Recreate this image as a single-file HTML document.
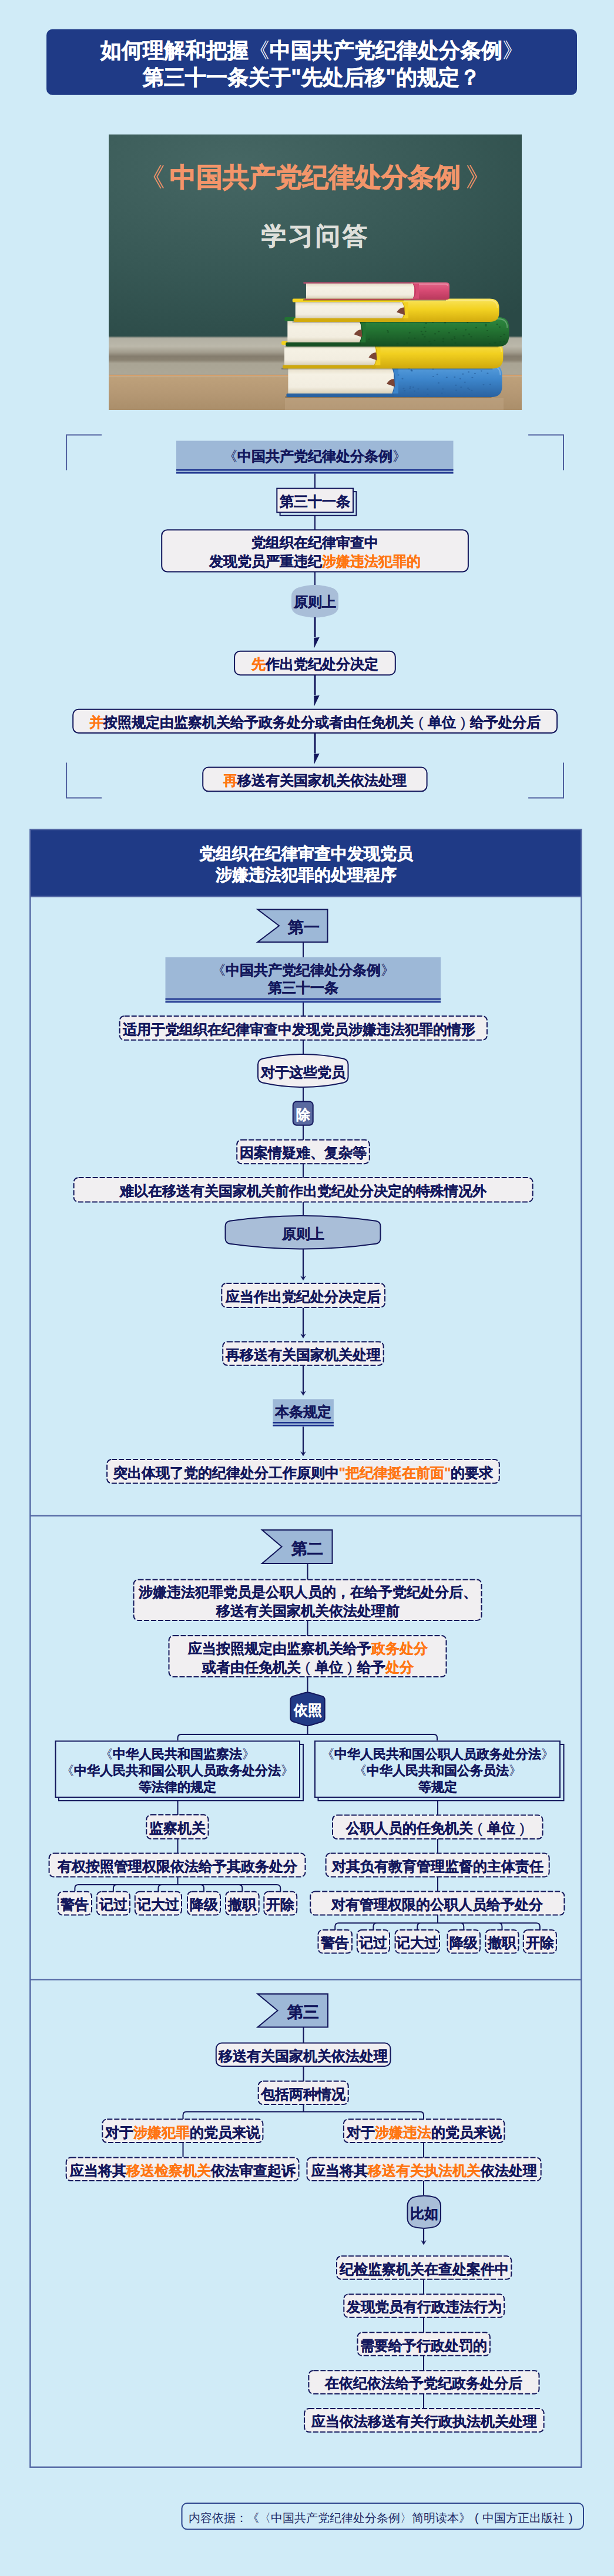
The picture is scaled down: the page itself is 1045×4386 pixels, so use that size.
<!DOCTYPE html>
<html><head><meta charset="utf-8"><style>
html,body{margin:0;padding:0;}
body{width:1045px;height:4386px;background:#d0ebf7;position:relative;overflow:hidden;font-family:"Liberation Sans",sans-serif;}
.t{position:absolute;display:flex;align-items:center;justify-content:center;text-align:center;white-space:nowrap;box-sizing:border-box;}
.o{color:#ff7613;}
.b{-webkit-text-stroke-width:0.35px;}
.nb{-webkit-text-stroke-width:0;font-weight:normal;}
.pw{display:inline-block;width:1em;text-align:center;font-weight:normal;-webkit-text-stroke-width:0;}
.b .pw{-webkit-text-stroke-width:0.3px;}
svg.g{position:absolute;left:0;top:0;}
</style></head><body>
<svg class="g" width="1045" height="4386" viewBox="0 0 1045 4386">
<rect x="79.1" y="49.8" width="902.9" height="112.00000000000001" rx="10" fill="#1f3a86"/>
<path d="M113.1,800.4 V740.4 H173.1 M899.1,740.4 H959 V800.4 M113.1,1298.5 V1358.4 H173.1 M899.1,1358.4 H959 V1298.5" fill="none" stroke="#4f5f9e" stroke-width="2"/>
<line x1="536" y1="806" x2="536" y2="1000" stroke="#13175c" stroke-width="2"/>
<rect x="300" y="750.5" width="471.5" height="55.89999999999998" rx="0" fill="#9db8d7"/>
<rect x="300" y="799" width="471.5" height="2.5" fill="#1f3590"/>
<rect x="300" y="803.9" width="471.5" height="2.5" fill="#1f3590"/>
<rect x="476.6" y="837.1" width="129.79999999999995" height="40.60000000000002" rx="0" fill="#d0ebf7" stroke="#13175c" stroke-width="2"/>
<rect x="471.3" y="831.6" width="129.7" height="40.69999999999993" rx="0" fill="#f1eff1" stroke="#13175c" stroke-width="2"/>
<rect x="275.2" y="902.2" width="521.7" height="71.39999999999998" rx="9.5" fill="#f1eff1" stroke="#13175c" stroke-width="2"/>
<path d="M496,1015 Q496,1006 505,1001.5 Q536.0,990.5 567,1001.5 Q576,1006 576,1015 L576,1032.6 Q576,1041.6 567,1046.1 Q536.0,1057.1 505,1046.1 Q496,1041.6 496,1032.6 Z" fill="#a9bed8"/>
<rect x="534.5" y="1051" width="3" height="34.100000000000136" fill="#13175c"/>
<path d="M534.2,1086.1000000000001 L543.7,1085.1000000000001 L534.6,1103.7 Z" fill="#13175c"/>
<rect x="399.1" y="1108.7" width="273.69999999999993" height="40.5" rx="9.5" fill="#f1eff1" stroke="#13175c" stroke-width="2"/>
<rect x="534.5" y="1150" width="3" height="34.100000000000136" fill="#13175c"/>
<path d="M534.2,1185.1000000000001 L543.7,1184.1000000000001 L534.6,1202.7 Z" fill="#13175c"/>
<rect x="124.2" y="1207.7" width="823.9" height="40.299999999999955" rx="9.5" fill="#f1eff1" stroke="#13175c" stroke-width="2"/>
<rect x="534.5" y="1249" width="3" height="34.0" fill="#13175c"/>
<path d="M534.2,1284.0 L543.7,1283.0 L534.6,1301.6 Z" fill="#13175c"/>
<rect x="345.2" y="1306.6" width="381.40000000000003" height="40.700000000000045" rx="9.5" fill="#f1eff1" stroke="#13175c" stroke-width="2"/>
<rect x="51.4" y="1412.2" width="938" height="114.1" fill="#1f3a86"/>
<rect x="51.4" y="1412.2" width="938" height="2788.5" fill="none" stroke="#5266a3" stroke-width="2.4"/>
<line x1="51.4" y1="1526.3" x2="989.4" y2="1526.3" stroke="#5266a3" stroke-width="2.4"/>
<line x1="51.4" y1="2580.9" x2="989.4" y2="2580.9" stroke="#5266a3" stroke-width="2.2"/>
<line x1="51.4" y1="3370.75" x2="989.4" y2="3370.75" stroke="#5266a3" stroke-width="2.2"/>
<line x1="516" y1="1605" x2="516" y2="2069" stroke="#13175c" stroke-width="2"/>
<path d="M438.5,1548.5 L557.5,1548.5 L557.5,1604 L438.5,1604 L475,1576.25 Z" fill="#9db8d7" stroke="#13175c" stroke-width="2" stroke-linejoin="miter"/>
<rect x="281.5" y="1629.8" width="468.5" height="77.30000000000018" rx="0" fill="#9db8d7"/>
<rect x="281.5" y="1699.7" width="468.5" height="2.5" fill="#1f3590"/>
<rect x="281.5" y="1704.6000000000001" width="468.5" height="2.5" fill="#1f3590"/>
<rect x="203.7" y="1730.0" width="625.2" height="40.799999999999955" rx="8" fill="#f1eff1" stroke="#13175c" stroke-width="2" stroke-dasharray="9 3"/>
<path d="M439.0,1812.5 Q439.0,1804.5 447.0,1802.5195439739414 Q515.75,1787.4804560260586 584.5,1802.5195439739414 Q592.5,1804.5 592.5,1812.5 L592.5,1833.5 Q592.5,1841.5 584.5,1843.4804560260586 Q515.75,1858.5195439739414 447.0,1843.4804560260586 Q439.0,1841.5 439.0,1833.5 Z" fill="#f1eff1" stroke="#13175c" stroke-width="2"/>
<rect x="498.7" y="1875.6" width="34.00000000000006" height="40.200000000000045" rx="6" fill="#5a6aa0" stroke="#13175c" stroke-width="2"/>
<rect x="403.2" y="1940.7" width="225.59999999999997" height="40.5" rx="8" fill="#f1eff1" stroke="#13175c" stroke-width="2" stroke-dasharray="9 3"/>
<rect x="125.6" y="2005.1" width="781.0" height="41.30000000000018" rx="8" fill="#f1eff1" stroke="#13175c" stroke-width="2" stroke-dasharray="9 3"/>
<path d="M383.5,2088.0 Q383.5,2080.0 391.5,2078.787878787879 Q515.5,2061.212121212121 639.5,2078.787878787879 Q647.5,2080.0 647.5,2088.0 L647.5,2108.5 Q647.5,2116.5 639.5,2117.712121212121 Q515.5,2135.287878787879 391.5,2117.712121212121 Q383.5,2116.5 383.5,2108.5 Z" fill="#a9bed8" stroke="#13175c" stroke-width="2"/>
<line x1="516" y1="2127" x2="516" y2="2176.8" stroke="#13175c" stroke-width="2.2"/>
<path d="M511.8,2172.8 L516,2179.8 L520.2,2172.8 L516,2175.8 Z" fill="#13175c" stroke="#13175c" stroke-width="0.6" stroke-linejoin="round"/>
<rect x="377.3" y="2185.1" width="277.7" height="40.80000000000018" rx="8" fill="#f1eff1" stroke="#13175c" stroke-width="2" stroke-dasharray="9 3"/>
<line x1="516" y1="2226.9" x2="516" y2="2275.3" stroke="#13175c" stroke-width="2.2"/>
<path d="M511.8,2271.3 L516,2278.3 L520.2,2271.3 L516,2274.3 Z" fill="#13175c" stroke="#13175c" stroke-width="0.6" stroke-linejoin="round"/>
<rect x="379.2" y="2284.4" width="273.50000000000006" height="40.29999999999973" rx="8" fill="#f1eff1" stroke="#13175c" stroke-width="2" stroke-dasharray="9 3"/>
<line x1="516" y1="2325.7" x2="516" y2="2372.8" stroke="#13175c" stroke-width="2.2"/>
<path d="M511.8,2368.8 L516,2375.8 L520.2,2368.8 L516,2371.8 Z" fill="#13175c" stroke="#13175c" stroke-width="0.6" stroke-linejoin="round"/>
<rect x="464.4" y="2382.3" width="103.5" height="46.09999999999991" rx="0" fill="#9db8d7"/>
<rect x="464.4" y="2421" width="103.5" height="2.5" fill="#1f3590"/>
<rect x="464.4" y="2425.9" width="103.5" height="2.5" fill="#1f3590"/>
<line x1="516" y1="2428.8" x2="516" y2="2475.8" stroke="#13175c" stroke-width="2.2"/>
<path d="M511.8,2471.8 L516,2478.8 L520.2,2471.8 L516,2474.8 Z" fill="#13175c" stroke="#13175c" stroke-width="0.6" stroke-linejoin="round"/>
<rect x="182.1" y="2485.0" width="667.6999999999999" height="40.40000000000009" rx="8" fill="#f1eff1" stroke="#13175c" stroke-width="2" stroke-dasharray="9 3"/>
<line x1="523.5" y1="2662" x2="523.5" y2="2953" stroke="#13175c" stroke-width="2"/>
<path d="M446,2605 L565.5,2605 L565.5,2662 L446,2662 L479.5,2633.5 Z" fill="#9db8d7" stroke="#13175c" stroke-width="2" stroke-linejoin="miter"/>
<rect x="227.5" y="2689.5" width="592.0" height="69.5" rx="8" fill="#f1eff1" stroke="#13175c" stroke-width="2" stroke-dasharray="9 3"/>
<rect x="287.5" y="2785.0" width="472.0" height="70" rx="8" fill="#f1eff1" stroke="#13175c" stroke-width="2" stroke-dasharray="9 3"/>
<path d="M494.40,2894.30 Q494.4,2889.3 499.20,2887.90 L518.70,2882.20 Q523.5,2880.8 528.30,2882.20 L547.90,2887.90 Q552.7,2889.3 552.70,2894.30 L552.70,2925.00 Q552.7,2930 547.92,2931.47 L528.28,2937.53 Q523.5,2939 518.72,2937.52 L499.18,2931.48 Q494.4,2930 494.40,2925.00 Z" fill="#213a86" stroke="#13175c" stroke-width="2"/>
<path d="M302.5,2963.5 L302.5,2959 Q302.5,2953 308.5,2953 L738,2953 Q744,2953 744,2959 L744,2963.5" fill="none" stroke="#13175c" stroke-width="2"/>
<rect x="100.0" y="2970.0" width="416" height="96" rx="0" fill="#d0ebf7" stroke="#13175c" stroke-width="2"/>
<rect x="94.5" y="2964.5" width="415.5" height="95.5" rx="0" fill="#d0ebf7" stroke="#13175c" stroke-width="2"/>
<rect x="541.5" y="2970.0" width="418.0" height="96" rx="0" fill="#d0ebf7" stroke="#13175c" stroke-width="2"/>
<rect x="536.0" y="2964.5" width="417" height="95.5" rx="0" fill="#d0ebf7" stroke="#13175c" stroke-width="2"/>
<line x1="302.5" y1="3066" x2="302.5" y2="3209" stroke="#13175c" stroke-width="2"/>
<rect x="249.3" y="3090.1" width="105.19999999999999" height="40.70000000000027" rx="8" fill="#f1eff1" stroke="#13175c" stroke-width="2" stroke-dasharray="9 3"/>
<rect x="83.6" y="3155.5" width="435.9" height="40.09999999999991" rx="8" fill="#f1eff1" stroke="#13175c" stroke-width="2" stroke-dasharray="9 3"/>
<path d="M127.4,3220 L127.4,3215 Q127.4,3209 133.4,3209 L471.25,3209 Q477.25,3209 477.25,3215 L477.25,3220 M192.9,3220 L192.9,3215 Q192.9,3209 198.9,3209 M269.4,3220 L269.4,3215 Q269.4,3209 275.4,3209 M341.0,3209 Q347.0,3209 347.0,3215 L347.0,3220 M406.35,3209 Q412.35,3209 412.35,3215 L412.35,3220" fill="none" stroke="#13175c" stroke-width="2"/>
<rect x="98.8" y="3220.8" width="57.2" height="39.79999999999973" rx="8" fill="#f1eff1" stroke="#13175c" stroke-width="2" stroke-dasharray="9 3"/>
<rect x="164.8" y="3220.8" width="56.19999999999999" height="39.79999999999973" rx="8" fill="#f1eff1" stroke="#13175c" stroke-width="2" stroke-dasharray="9 3"/>
<rect x="229.8" y="3220.8" width="79.19999999999999" height="39.79999999999973" rx="8" fill="#f1eff1" stroke="#13175c" stroke-width="2" stroke-dasharray="9 3"/>
<rect x="319.0" y="3220.8" width="56" height="39.79999999999973" rx="8" fill="#f1eff1" stroke="#13175c" stroke-width="2" stroke-dasharray="9 3"/>
<rect x="384.0" y="3220.8" width="56.69999999999999" height="39.79999999999973" rx="8" fill="#f1eff1" stroke="#13175c" stroke-width="2" stroke-dasharray="9 3"/>
<rect x="449.3" y="3220.8" width="55.89999999999998" height="39.79999999999973" rx="8" fill="#f1eff1" stroke="#13175c" stroke-width="2" stroke-dasharray="9 3"/>
<line x1="745" y1="3066" x2="745" y2="3274.3" stroke="#13175c" stroke-width="2"/>
<rect x="566.0" y="3090.4" width="357.5" height="40.5" rx="8" fill="#f1eff1" stroke="#13175c" stroke-width="2" stroke-dasharray="9 3"/>
<rect x="554.6" y="3155.5" width="380.1" height="40.09999999999991" rx="8" fill="#f1eff1" stroke="#13175c" stroke-width="2" stroke-dasharray="9 3"/>
<rect x="528.2" y="3220.6" width="432.19999999999993" height="40.0" rx="8" fill="#f1eff1" stroke="#13175c" stroke-width="2" stroke-dasharray="9 3"/>
<path d="M570.25,3286 L570.25,3280.3 Q570.25,3274.3 576.25,3274.3 L912.8499999999999,3274.3 Q918.8499999999999,3274.3 918.8499999999999,3280.3 L918.8499999999999,3286 M635.4,3286 L635.4,3280.3 Q635.4,3274.3 641.4,3274.3 M710.3,3286 L710.3,3280.3 Q710.3,3274.3 716.3,3274.3 M783.3,3274.3 Q789.3,3274.3 789.3,3280.3 L789.3,3286 M848.45,3274.3 Q854.45,3274.3 854.45,3280.3 L854.45,3286" fill="none" stroke="#13175c" stroke-width="2"/>
<rect x="541.5" y="3285.9" width="57.5" height="39.69999999999982" rx="8" fill="#f1eff1" stroke="#13175c" stroke-width="2" stroke-dasharray="9 3"/>
<rect x="607.8" y="3285.9" width="55.200000000000045" height="39.69999999999982" rx="8" fill="#f1eff1" stroke="#13175c" stroke-width="2" stroke-dasharray="9 3"/>
<rect x="672.6" y="3285.9" width="75.39999999999998" height="39.69999999999982" rx="8" fill="#f1eff1" stroke="#13175c" stroke-width="2" stroke-dasharray="9 3"/>
<rect x="761.6" y="3285.9" width="55.39999999999998" height="39.69999999999982" rx="8" fill="#f1eff1" stroke="#13175c" stroke-width="2" stroke-dasharray="9 3"/>
<rect x="826.4" y="3285.9" width="56.10000000000002" height="39.69999999999982" rx="8" fill="#f1eff1" stroke="#13175c" stroke-width="2" stroke-dasharray="9 3"/>
<rect x="890.8" y="3285.9" width="56.10000000000002" height="39.69999999999982" rx="8" fill="#f1eff1" stroke="#13175c" stroke-width="2" stroke-dasharray="9 3"/>
<line x1="516.5" y1="3451" x2="516.5" y2="3595.6" stroke="#13175c" stroke-width="2"/>
<path d="M438.5,3395 L558,3395 L558,3451.5 L438.5,3451.5 L472.5,3423.25 Z" fill="#9db8d7" stroke="#13175c" stroke-width="2" stroke-linejoin="miter"/>
<rect x="367.8" y="3478.6" width="296.7" height="39.5" rx="9.5" fill="#f1eff1" stroke="#13175c" stroke-width="2"/>
<rect x="439.7" y="3543.6" width="153.00000000000006" height="39.5" rx="8" fill="#f1eff1" stroke="#13175c" stroke-width="2" stroke-dasharray="9 3"/>
<path d="M311.5,3608 L311.5,3601.6 Q311.5,3595.6 317.5,3595.6 L715,3595.6 Q721,3595.6 721,3601.6 L721,3608" fill="none" stroke="#13175c" stroke-width="2"/>
<line x1="311.5" y1="3649" x2="311.5" y2="3672.5" stroke="#13175c" stroke-width="2"/>
<line x1="721" y1="3649" x2="721" y2="3737.5" stroke="#13175c" stroke-width="2"/>
<rect x="174.3" y="3608.3" width="273.09999999999997" height="39.59999999999991" rx="8" fill="#f1eff1" stroke="#13175c" stroke-width="2" stroke-dasharray="9 3"/>
<rect x="584.9" y="3608.3" width="273.5" height="39.59999999999991" rx="8" fill="#f1eff1" stroke="#13175c" stroke-width="2" stroke-dasharray="9 3"/>
<rect x="112.7" y="3673.6" width="395.8" height="39.5" rx="8" fill="#f1eff1" stroke="#13175c" stroke-width="2" stroke-dasharray="9 3"/>
<rect x="522.5" y="3673.6" width="398.20000000000005" height="39.5" rx="8" fill="#f1eff1" stroke="#13175c" stroke-width="2" stroke-dasharray="9 3"/>
<path d="M693.5,3755.5 Q693.5,3746.5 702.5,3741.402654867257 Q721.75,3735.597345132743 741.0,3741.402654867257 Q750.0,3746.5 750.0,3755.5 L750.0,3777.0 Q750.0,3786.0 741.0,3791.097345132743 Q721.75,3796.902654867257 702.5,3791.097345132743 Q693.5,3786.0 693.5,3777.0 Z" fill="#a9bed8" stroke="#13175c" stroke-width="2"/>
<line x1="721" y1="3795" x2="721" y2="3818.8" stroke="#13175c" stroke-width="2.2"/>
<path d="M716.8,3814.8 L721,3821.8 L725.2,3814.8 L721,3817.8 Z" fill="#13175c" stroke="#13175c" stroke-width="0.6" stroke-linejoin="round"/>
<line x1="721" y1="3880" x2="721" y2="4100" stroke="#13175c" stroke-width="2"/>
<rect x="573.0" y="3841.3" width="297.29999999999995" height="39.5" rx="8" fill="#f1eff1" stroke="#13175c" stroke-width="2" stroke-dasharray="9 3"/>
<rect x="585.3" y="3906.2" width="272.80000000000007" height="39.600000000000364" rx="8" fill="#f1eff1" stroke="#13175c" stroke-width="2" stroke-dasharray="9 3"/>
<rect x="608.5" y="3971.3" width="225.39999999999998" height="39.5" rx="8" fill="#f1eff1" stroke="#13175c" stroke-width="2" stroke-dasharray="9 3"/>
<rect x="525.4" y="4036.2" width="392.1" height="39.600000000000364" rx="8" fill="#f1eff1" stroke="#13175c" stroke-width="2" stroke-dasharray="9 3"/>
<rect x="518.1" y="4101.0" width="407.5" height="39.80000000000018" rx="8" fill="#f1eff1" stroke="#13175c" stroke-width="2" stroke-dasharray="9 3"/>
<rect x="309.5" y="4262.0" width="683.5" height="44.5" rx="9" fill="none" stroke="#2b438b" stroke-width="2"/>
</svg>
<svg style="position:absolute;left:185px;top:229px" width="703" height="469" viewBox="0 0 703 469">
<defs>
<radialGradient id="bd" cx="0.3" cy="0.15" r="1.0">
<stop offset="0" stop-color="#466764"/><stop offset="0.55" stop-color="#375855"/><stop offset="1" stop-color="#2a4946"/>
</radialGradient>
<linearGradient id="ld" x1="0" y1="0" x2="0" y2="1">
<stop offset="0" stop-color="#6f7a72"/><stop offset="0.05" stop-color="#b3b0a3"/><stop offset="0.25" stop-color="#bbb8aa"/><stop offset="0.4" stop-color="#a39d8e"/><stop offset="0.5" stop-color="#857d6e"/><stop offset="0.6" stop-color="#8a8272"/><stop offset="0.68" stop-color="#a9a494"/><stop offset="0.95" stop-color="#aca797"/><stop offset="1" stop-color="#9f9785"/>
</linearGradient>
<linearGradient id="tb" x1="0" y1="0" x2="0" y2="1">
<stop offset="0" stop-color="#bea17b"/><stop offset="0.5" stop-color="#b59874"/><stop offset="1" stop-color="#aa8e6a"/>
</linearGradient>
<linearGradient id="pg" x1="0" y1="0" x2="0" y2="1">
<stop offset="0" stop-color="#e4dcc6"/><stop offset="0.25" stop-color="#f5f1e4"/><stop offset="0.75" stop-color="#f2ede0"/><stop offset="1" stop-color="#d9d0b8"/>
</linearGradient>
</defs>
<rect x="0" y="0" width="703" height="344" fill="url(#bd)"/>
<rect x="0" y="344" width="703" height="67" fill="url(#ld)"/>
<rect x="0" y="409.5" width="703" height="2" fill="#d9a06a"/>
<rect x="0" y="411.5" width="703" height="58" fill="url(#tb)"/>
<rect x="300" y="449" width="372" height="20" fill="#c9b090" opacity="0.35"/>
<linearGradient id="sg1" x1="0" y1="0" x2="0" y2="1"><stop offset="0" stop-color="#5aa0de"/><stop offset="0.45" stop-color="#3d86cc"/><stop offset="1" stop-color="#2a62a0"/></linearGradient>
<rect x="300.4" y="445.5" width="351.1" height="3" fill="#000" opacity="0.25"/>
<path d="M479,391.5 H651.5 Q669.5,391.5 669.5,409.5 V429 Q669.5,447 651.5,447 H479 Z" fill="url(#sg1)"/>
<path d="M485,394.5 H651.5 Q666.5,394.5 666.5,409.5" fill="none" stroke="#ffffff" stroke-opacity="0.25" stroke-width="2"/>
<rect x="300.4" y="391.5" width="184.60000000000002" height="6" rx="2" fill="#3d86cc"/>
<rect x="302.4" y="441" width="182.60000000000002" height="6" rx="2" fill="#2a62a0"/>
<rect x="305.4" y="397.5" width="179.60000000000002" height="43.5" fill="url(#pg)"/>
<path d="M483,397.5 Q491,419.25 483,441 H493 V397.5 Z" fill="#3d86cc"/>
<path d="M483,397.5 Q491,419.25 483,441" fill="none" stroke="#2a62a0" stroke-width="1.2"/>
<path d="M473,424.47 Q479,415.47 486,416.47 L487,429.47 Z" fill="#7b4536"/>
<ellipse cx="612.6" cy="404.4" rx="1.6" ry="1.1" fill="#2a62a0" opacity="0.7"/>
<ellipse cx="613.8" cy="434.0" rx="1.6" ry="1.1" fill="#2a62a0" opacity="0.7"/>
<ellipse cx="588.8" cy="413.1" rx="1.6" ry="1.1" fill="#2a62a0" opacity="0.7"/>
<ellipse cx="503.6" cy="436.2" rx="1.6" ry="1.1" fill="#2a62a0" opacity="0.7"/>
<ellipse cx="552.0" cy="399.3" rx="1.6" ry="1.1" fill="#2a62a0" opacity="0.7"/>
<ellipse cx="644.9" cy="406.7" rx="1.6" ry="1.1" fill="#2a62a0" opacity="0.7"/>
<ellipse cx="542.8" cy="442.8" rx="1.6" ry="1.1" fill="#2a62a0" opacity="0.7"/>
<ellipse cx="611.7" cy="431.9" rx="1.6" ry="1.1" fill="#2a62a0" opacity="0.7"/>
<ellipse cx="515.1" cy="401.0" rx="1.6" ry="1.1" fill="#2a62a0" opacity="0.7"/>
<ellipse cx="561.5" cy="423.1" rx="1.6" ry="1.1" fill="#2a62a0" opacity="0.7"/>
<ellipse cx="638.0" cy="426.1" rx="1.6" ry="1.1" fill="#2a62a0" opacity="0.7"/>
<ellipse cx="568.8" cy="433.3" rx="1.6" ry="1.1" fill="#2a62a0" opacity="0.7"/>
<ellipse cx="617.9" cy="435.9" rx="1.6" ry="1.1" fill="#2a62a0" opacity="0.7"/>
<ellipse cx="602.9" cy="407.8" rx="1.6" ry="1.1" fill="#2a62a0" opacity="0.7"/>
<ellipse cx="520.5" cy="436.8" rx="1.6" ry="1.1" fill="#2a62a0" opacity="0.7"/>
<ellipse cx="598.4" cy="415.8" rx="1.6" ry="1.1" fill="#2a62a0" opacity="0.7"/>
<ellipse cx="591.6" cy="435.7" rx="1.6" ry="1.1" fill="#2a62a0" opacity="0.7"/>
<ellipse cx="512.8" cy="432.2" rx="1.6" ry="1.1" fill="#2a62a0" opacity="0.7"/>
<ellipse cx="567.1" cy="440.7" rx="1.6" ry="1.1" fill="#2a62a0" opacity="0.7"/>
<ellipse cx="542.8" cy="433.7" rx="1.6" ry="1.1" fill="#2a62a0" opacity="0.7"/>
<ellipse cx="606.2" cy="421.8" rx="1.6" ry="1.1" fill="#2a62a0" opacity="0.7"/>
<ellipse cx="513.5" cy="429.7" rx="1.6" ry="1.1" fill="#2a62a0" opacity="0.7"/>
<ellipse cx="502.0" cy="432.5" rx="1.6" ry="1.1" fill="#2a62a0" opacity="0.7"/>
<ellipse cx="515.3" cy="402.1" rx="1.6" ry="1.1" fill="#2a62a0" opacity="0.7"/>
<ellipse cx="552.4" cy="412.0" rx="1.6" ry="1.1" fill="#2a62a0" opacity="0.7"/>
<ellipse cx="526.9" cy="433.3" rx="1.6" ry="1.1" fill="#2a62a0" opacity="0.7"/>
<ellipse cx="559.3" cy="408.5" rx="1.6" ry="1.1" fill="#2a62a0" opacity="0.7"/>
<ellipse cx="590.9" cy="426.9" rx="1.6" ry="1.1" fill="#2a62a0" opacity="0.7"/>
<ellipse cx="518.4" cy="430.3" rx="1.6" ry="1.1" fill="#2a62a0" opacity="0.7"/>
<ellipse cx="599.8" cy="430.3" rx="1.6" ry="1.1" fill="#2a62a0" opacity="0.7"/>
<ellipse cx="493.1" cy="409.5" rx="1.6" ry="1.1" fill="#2a62a0" opacity="0.7"/>
<ellipse cx="618.9" cy="413.8" rx="1.6" ry="1.1" fill="#2a62a0" opacity="0.7"/>
<ellipse cx="649.4" cy="425.5" rx="1.6" ry="1.1" fill="#2a62a0" opacity="0.7"/>
<ellipse cx="634.4" cy="402.6" rx="1.6" ry="1.1" fill="#2a62a0" opacity="0.7"/>
<ellipse cx="511.2" cy="398.6" rx="1.6" ry="1.1" fill="#2a62a0" opacity="0.7"/>
<ellipse cx="623.4" cy="406.8" rx="1.6" ry="1.1" fill="#2a62a0" opacity="0.7"/>
<ellipse cx="516.2" cy="402.4" rx="1.6" ry="1.1" fill="#2a62a0" opacity="0.7"/>
<ellipse cx="575.3" cy="413.7" rx="1.6" ry="1.1" fill="#2a62a0" opacity="0.7"/>
<ellipse cx="500.0" cy="415.9" rx="1.6" ry="1.1" fill="#2a62a0" opacity="0.7"/>
<linearGradient id="sg2" x1="0" y1="0" x2="0" y2="1"><stop offset="0" stop-color="#f8e25a"/><stop offset="0.45" stop-color="#f2d020"/><stop offset="1" stop-color="#cfa80c"/></linearGradient>
<rect x="294" y="397.1" width="359.29999999999995" height="3" fill="#000" opacity="0.25"/>
<path d="M448.4,352 H653.3 Q671.3,352 671.3,370 V380.6 Q671.3,398.6 653.3,398.6 H448.4 Z" fill="url(#sg2)"/>
<path d="M454.4,355 H653.3 Q668.3,355 668.3,370" fill="none" stroke="#ffffff" stroke-opacity="0.25" stroke-width="2"/>
<rect x="294" y="352" width="160.39999999999998" height="6" rx="2" fill="#f2d020"/>
<rect x="296" y="392.6" width="158.39999999999998" height="6" rx="2" fill="#cfa80c"/>
<rect x="299" y="358" width="155.39999999999998" height="34.60000000000002" fill="url(#pg)"/>
<path d="M452.4,358 Q460.4,375.3 452.4,392.6 H462.4 V358 Z" fill="#f2d020"/>
<path d="M452.4,358 Q460.4,375.3 452.4,392.6" fill="none" stroke="#cfa80c" stroke-width="1.2"/>
<path d="M442.4,379.452 Q448.4,370.452 455.4,371.452 L456.4,384.452 Z" fill="#7b4536"/>
<linearGradient id="sg3" x1="0" y1="0" x2="0" y2="1"><stop offset="0" stop-color="#2f8a42"/><stop offset="0.45" stop-color="#237332"/><stop offset="1" stop-color="#164f22"/></linearGradient>
<rect x="299.3" y="359.5" width="363.99999999999994" height="3" fill="#000" opacity="0.25"/>
<path d="M423.4,311 H663.3 Q681.3,311 681.3,329 V343 Q681.3,361 663.3,361 H423.4 Z" fill="url(#sg3)"/>
<path d="M429.4,314 H663.3 Q678.3,314 678.3,329" fill="none" stroke="#ffffff" stroke-opacity="0.25" stroke-width="2"/>
<rect x="299.3" y="311" width="130.09999999999997" height="7" rx="2" fill="#237332"/>
<rect x="301.3" y="354" width="128.09999999999997" height="7" rx="2" fill="#164f22"/>
<rect x="304.3" y="318" width="125.09999999999997" height="36" fill="url(#pg)"/>
<path d="M427.4,318 Q435.4,336.0 427.4,354 H437.4 V318 Z" fill="#237332"/>
<path d="M427.4,318 Q435.4,336.0 427.4,354" fill="none" stroke="#164f22" stroke-width="1.2"/>
<path d="M417.4,340.32 Q423.4,331.32 430.4,332.32 L431.4,345.32 Z" fill="#7b4536"/>
<ellipse cx="537.4" cy="328.7" rx="1.6" ry="1.1" fill="#164f22" opacity="0.7"/>
<ellipse cx="507.6" cy="355.1" rx="1.6" ry="1.1" fill="#164f22" opacity="0.7"/>
<ellipse cx="539.2" cy="335.1" rx="1.6" ry="1.1" fill="#164f22" opacity="0.7"/>
<ellipse cx="588.5" cy="344.6" rx="1.6" ry="1.1" fill="#164f22" opacity="0.7"/>
<ellipse cx="607.7" cy="332.6" rx="1.6" ry="1.1" fill="#164f22" opacity="0.7"/>
<ellipse cx="548.3" cy="356.5" rx="1.6" ry="1.1" fill="#164f22" opacity="0.7"/>
<ellipse cx="534.3" cy="340.4" rx="1.6" ry="1.1" fill="#164f22" opacity="0.7"/>
<ellipse cx="554.6" cy="350.8" rx="1.6" ry="1.1" fill="#164f22" opacity="0.7"/>
<ellipse cx="475.6" cy="336.4" rx="1.6" ry="1.1" fill="#164f22" opacity="0.7"/>
<ellipse cx="642.0" cy="325.7" rx="1.6" ry="1.1" fill="#164f22" opacity="0.7"/>
<ellipse cx="656.8" cy="354.9" rx="1.6" ry="1.1" fill="#164f22" opacity="0.7"/>
<ellipse cx="591.2" cy="331.7" rx="1.6" ry="1.1" fill="#164f22" opacity="0.7"/>
<ellipse cx="551.8" cy="319.4" rx="1.6" ry="1.1" fill="#164f22" opacity="0.7"/>
<ellipse cx="474.6" cy="334.1" rx="1.6" ry="1.1" fill="#164f22" opacity="0.7"/>
<ellipse cx="658.4" cy="354.2" rx="1.6" ry="1.1" fill="#164f22" opacity="0.7"/>
<ellipse cx="555.5" cy="339.4" rx="1.6" ry="1.1" fill="#164f22" opacity="0.7"/>
<ellipse cx="665.4" cy="327.8" rx="1.6" ry="1.1" fill="#164f22" opacity="0.7"/>
<ellipse cx="569.6" cy="347.9" rx="1.6" ry="1.1" fill="#164f22" opacity="0.7"/>
<ellipse cx="512.2" cy="337.6" rx="1.6" ry="1.1" fill="#164f22" opacity="0.7"/>
<ellipse cx="610.8" cy="320.1" rx="1.6" ry="1.1" fill="#164f22" opacity="0.7"/>
<ellipse cx="443.2" cy="348.7" rx="1.6" ry="1.1" fill="#164f22" opacity="0.7"/>
<ellipse cx="532.2" cy="335.3" rx="1.6" ry="1.1" fill="#164f22" opacity="0.7"/>
<ellipse cx="540.1" cy="321.6" rx="1.6" ry="1.1" fill="#164f22" opacity="0.7"/>
<ellipse cx="617.0" cy="344.3" rx="1.6" ry="1.1" fill="#164f22" opacity="0.7"/>
<ellipse cx="613.5" cy="339.9" rx="1.6" ry="1.1" fill="#164f22" opacity="0.7"/>
<ellipse cx="666.6" cy="353.1" rx="1.6" ry="1.1" fill="#164f22" opacity="0.7"/>
<ellipse cx="625.5" cy="328.8" rx="1.6" ry="1.1" fill="#164f22" opacity="0.7"/>
<ellipse cx="584.6" cy="349.5" rx="1.6" ry="1.1" fill="#164f22" opacity="0.7"/>
<ellipse cx="546.0" cy="352.5" rx="1.6" ry="1.1" fill="#164f22" opacity="0.7"/>
<ellipse cx="667.4" cy="344.0" rx="1.6" ry="1.1" fill="#164f22" opacity="0.7"/>
<ellipse cx="589.0" cy="347.1" rx="1.6" ry="1.1" fill="#164f22" opacity="0.7"/>
<ellipse cx="645.9" cy="344.0" rx="1.6" ry="1.1" fill="#164f22" opacity="0.7"/>
<ellipse cx="491.5" cy="355.9" rx="1.6" ry="1.1" fill="#164f22" opacity="0.7"/>
<ellipse cx="590.1" cy="354.9" rx="1.6" ry="1.1" fill="#164f22" opacity="0.7"/>
<ellipse cx="644.4" cy="334.0" rx="1.6" ry="1.1" fill="#164f22" opacity="0.7"/>
<ellipse cx="642.0" cy="323.3" rx="1.6" ry="1.1" fill="#164f22" opacity="0.7"/>
<ellipse cx="673.2" cy="340.7" rx="1.6" ry="1.1" fill="#164f22" opacity="0.7"/>
<ellipse cx="648.5" cy="356.1" rx="1.6" ry="1.1" fill="#164f22" opacity="0.7"/>
<ellipse cx="572.5" cy="320.6" rx="1.6" ry="1.1" fill="#164f22" opacity="0.7"/>
<ellipse cx="661.1" cy="323.1" rx="1.6" ry="1.1" fill="#164f22" opacity="0.7"/>
<ellipse cx="569.2" cy="352.5" rx="1.6" ry="1.1" fill="#164f22" opacity="0.7"/>
<ellipse cx="604.0" cy="342.7" rx="1.6" ry="1.1" fill="#164f22" opacity="0.7"/>
<ellipse cx="510.7" cy="346.5" rx="1.6" ry="1.1" fill="#164f22" opacity="0.7"/>
<ellipse cx="561.8" cy="335.3" rx="1.6" ry="1.1" fill="#164f22" opacity="0.7"/>
<ellipse cx="521.0" cy="346.8" rx="1.6" ry="1.1" fill="#164f22" opacity="0.7"/>
<ellipse cx="579.3" cy="337.6" rx="1.6" ry="1.1" fill="#164f22" opacity="0.7"/>
<ellipse cx="537.9" cy="344.5" rx="1.6" ry="1.1" fill="#164f22" opacity="0.7"/>
<ellipse cx="673.1" cy="352.4" rx="1.6" ry="1.1" fill="#164f22" opacity="0.7"/>
<linearGradient id="sg4" x1="0" y1="0" x2="0" y2="1"><stop offset="0" stop-color="#f9e45e"/><stop offset="0.45" stop-color="#f3d222"/><stop offset="1" stop-color="#d2ab0e"/></linearGradient>
<rect x="312.7" y="317.5" width="336.0" height="3" fill="#000" opacity="0.25"/>
<path d="M496,279.5 H648.7 Q664.5,279.5 664.5,295.3 V303.2 Q664.5,319 648.7,319 H496 Z" fill="url(#sg4)"/>
<path d="M502,282.5 H648.7 Q661.5,282.5 661.5,295.3" fill="none" stroke="#ffffff" stroke-opacity="0.25" stroke-width="2"/>
<rect x="312.7" y="279.5" width="189.3" height="6" rx="2" fill="#f3d222"/>
<rect x="314.7" y="313" width="187.3" height="6" rx="2" fill="#d2ab0e"/>
<rect x="317.7" y="285.5" width="184.3" height="27.5" fill="url(#pg)"/>
<path d="M500,285.5 Q508,299.25 500,313 H510 V285.5 Z" fill="#f3d222"/>
<path d="M500,285.5 Q508,299.25 500,313" fill="none" stroke="#d2ab0e" stroke-width="1.2"/>
<path d="M490,302.55 Q496,293.55 503,294.55 L504,307.55 Z" fill="#7b4536"/>
<linearGradient id="sg5" x1="0" y1="0" x2="0" y2="1"><stop offset="0" stop-color="#e56a8a"/><stop offset="0.45" stop-color="#d84b74"/><stop offset="1" stop-color="#b8385c"/></linearGradient>
<rect x="331" y="280.0" width="243" height="3" fill="#000" opacity="0.25"/>
<path d="M514,251.7 H574 Q580,251.7 580,257.7 V275.5 Q580,281.5 574,281.5 H514 Z" fill="url(#sg5)"/>
<path d="M520,254.7 H574 Q577,254.7 577,257.7" fill="none" stroke="#ffffff" stroke-opacity="0.25" stroke-width="2"/>
<rect x="331" y="251.7" width="189" height="2" rx="2" fill="#d84b74"/>
<rect x="333" y="279.5" width="187" height="2" rx="2" fill="#b8385c"/>
<rect x="336" y="253.7" width="184" height="25.80000000000001" fill="url(#pg)"/>
<path d="M518,253.7 Q526,266.6 518,279.5 H528 V253.7 Z" fill="#d84b74"/>
<path d="M518,253.7 Q526,266.6 518,279.5" fill="none" stroke="#b8385c" stroke-width="1.2"/>
</svg>
<div class="t b" style="left:185px;top:262px;width:703px;height:80px;font-size:45px;font-weight:bold;color:#f3956a;line-height:60px;-webkit-text-stroke-width:1px"><div><span class="nb" style="margin-right:8px">《</span>中国共产党纪律处分条例<span class="nb" style="margin-left:8px">》</span></div></div>
<div class="t b" style="left:185px;top:362px;width:703px;height:80px;font-size:42px;font-weight:bold;color:#dedfda;line-height:60px;letter-spacing:4px;-webkit-text-stroke-width:0.8px"><div>学习问答</div></div>

<div class="t b" style="left:79.1px;top:52.8px;width:902.9px;height:112.00000000000001px;font-size:36px;line-height:46px;color:#fff;font-weight:bold;-webkit-text-stroke-width:0.7px"><div>如何理解和把握<span class="nb">《</span>中国共产党纪律处分条例<span class="nb">》</span><br>第三十一条关于"先处后移"的规定？</div></div>
<div class="t b" style="left:300px;top:753.0px;width:471.5px;height:48.5px;font-size:24px;line-height:30px;color:#13175c;font-weight:bold;"><div><span class="nb">《</span>中国共产党纪律处分条例<span class="nb">》</span></div></div>
<div class="t b" style="left:470.3px;top:833.1px;width:131.7px;height:42.69999999999993px;font-size:24px;line-height:32px;color:#13175c;font-weight:bold;"><div>第三十一条</div></div>
<div class="t b" style="left:274.2px;top:903.7px;width:523.7px;height:73.39999999999998px;font-size:24px;line-height:32px;color:#13175c;font-weight:bold;"><div>党组织在纪律审查中<br>发现党员严重违纪<span class="o">涉嫌违法犯罪的</span></div></div>
<div class="t b" style="left:496px;top:997.5px;width:80px;height:55.59999999999991px;font-size:24px;line-height:32px;color:#13175c;font-weight:bold;"><div>原则上</div></div>
<div class="t b" style="left:398.1px;top:1110.2px;width:275.69999999999993px;height:42.5px;font-size:24px;line-height:32px;color:#13175c;font-weight:bold;"><div><span class="o">先</span>作出党纪处分决定</div></div>
<div class="t b" style="left:123.2px;top:1209.2px;width:825.9px;height:42.299999999999955px;font-size:24px;line-height:32px;color:#13175c;font-weight:bold;"><div><span class="o">并</span>按照规定由监察机关给予政务处分或者由任免机关<span class="pw">(</span>单位<span class="pw">)</span>给予处分后</div></div>
<div class="t b" style="left:344.2px;top:1308.1px;width:383.40000000000003px;height:42.700000000000045px;font-size:24px;line-height:32px;color:#13175c;font-weight:bold;"><div><span class="o">再</span>移送有关国家机关依法处理</div></div>
<div class="t b" style="left:51px;top:1414.5px;width:939px;height:114px;font-size:28px;line-height:36px;color:#fff;font-weight:bold;-webkit-text-stroke-width:0.6px"><div>党组织在纪律审查中发现党员<br>涉嫌违法犯罪的处理程序</div></div>
<div class="t b" style="left:472px;top:1550.5px;width:89.5px;height:57.5px;font-size:27px;line-height:36px;color:#13175c;font-weight:bold;"><div>第一</div></div>
<div class="t b" style="left:281.5px;top:1632.3px;width:468.5px;height:69.90000000000009px;font-size:24px;line-height:30px;color:#13175c;font-weight:bold;"><div><span class="nb">《</span>中国共产党纪律处分条例<span class="nb">》</span><br>第三十一条</div></div>
<div class="t b" style="left:195.2px;top:1731.5px;width:627.2px;height:42.799999999999955px;font-size:24px;line-height:32px;color:#13175c;font-weight:bold;"><div>适用于党组织在纪律审查中发现党员涉嫌违法犯罪的情形</div></div>
<div class="t b" style="left:438px;top:1796.5px;width:155.5px;height:58px;font-size:24px;line-height:32px;color:#13175c;font-weight:bold;"><div>对于这些党员</div></div>
<div class="t b" style="left:497.7px;top:1877.1px;width:36.00000000000006px;height:42.200000000000045px;font-size:24px;line-height:32px;color:#fff;font-weight:bold;"><div>除</div></div>
<div class="t b" style="left:402.2px;top:1942.2px;width:227.59999999999997px;height:42.5px;font-size:24px;line-height:32px;color:#13175c;font-weight:bold;"><div>因案情疑难、复杂等</div></div>
<div class="t b" style="left:124.6px;top:2006.6px;width:783.0px;height:43.30000000000018px;font-size:24px;line-height:32px;color:#13175c;font-weight:bold;"><div>难以在移送有关国家机关前作出党纪处分决定的特殊情况外</div></div>
<div class="t b" style="left:382.5px;top:2071.5px;width:266.0px;height:58.5px;font-size:24px;line-height:32px;color:#13175c;font-weight:bold;"><div>原则上</div></div>
<div class="t b" style="left:376.3px;top:2186.6px;width:279.7px;height:42.80000000000018px;font-size:24px;line-height:32px;color:#13175c;font-weight:bold;"><div>应当作出党纪处分决定后</div></div>
<div class="t b" style="left:378.2px;top:2285.9px;width:275.50000000000006px;height:42.29999999999973px;font-size:24px;line-height:32px;color:#13175c;font-weight:bold;"><div>再移送有关国家机关处理</div></div>
<div class="t b" style="left:464.4px;top:2384.8px;width:103.5px;height:38.69999999999982px;font-size:24px;line-height:30px;color:#13175c;font-weight:bold;"><div>本条规定</div></div>
<div class="t b" style="left:181.1px;top:2486.5px;width:669.6999999999999px;height:42.40000000000009px;font-size:24px;line-height:32px;color:#13175c;font-weight:bold;"><div>突出体现了党的纪律处分工作原则中<span class="o">"把纪律挺在前面"</span>的要求</div></div>
<div class="t b" style="left:476.5px;top:2607px;width:93.0px;height:59px;font-size:27px;line-height:36px;color:#13175c;font-weight:bold;"><div>第二</div></div>
<div class="t b" style="left:226.5px;top:2691.0px;width:594.0px;height:71.5px;font-size:24px;line-height:32px;color:#13175c;font-weight:bold;"><div>涉嫌违法犯罪党员是公职人员的，在给予党纪处分后、<br>移送有关国家机关依法处理前</div></div>
<div class="t b" style="left:286.5px;top:2786.5px;width:474.0px;height:72px;font-size:24px;line-height:32px;color:#13175c;font-weight:bold;"><div>应当按照规定由监察机关给予<span class="o">政务处分</span><br>或者由任免机关<span class="pw">(</span>单位<span class="pw">)</span>给予<span class="o">处分</span></div></div>
<div class="t b" style="left:493.4px;top:2882.5px;width:60.30000000000007px;height:59.69999999999982px;font-size:24px;line-height:32px;color:#fff;font-weight:bold;"><div>依照</div></div>
<div class="t b" style="left:93.5px;top:2966.0px;width:417.5px;height:97.5px;font-size:22px;line-height:28px;color:#13175c;font-weight:bold;"><div><span class="nb">《</span>中华人民共和国监察法<span class="nb">》</span><br><span class="nb">《</span>中华人民共和国公职人员政务处分法<span class="nb">》</span><br>等法律的规定</div></div>
<div class="t b" style="left:535px;top:2966.0px;width:419px;height:97.5px;font-size:22px;line-height:28px;color:#13175c;font-weight:bold;"><div><span class="nb">《</span>中华人民共和国公职人员政务处分法<span class="nb">》</span><br><span class="nb">《</span>中华人民共和国公务员法<span class="nb">》</span><br>等规定</div></div>
<div class="t b" style="left:248.3px;top:3091.6px;width:107.19999999999999px;height:42.70000000000027px;font-size:24px;line-height:32px;color:#13175c;font-weight:bold;"><div>监察机关</div></div>
<div class="t b" style="left:82.6px;top:3157.0px;width:437.9px;height:42.09999999999991px;font-size:24px;line-height:32px;color:#13175c;font-weight:bold;"><div>有权按照管理权限依法给予其政务处分</div></div>
<div class="t b" style="left:97.8px;top:3222.3px;width:59.2px;height:41.79999999999973px;font-size:24px;line-height:32px;color:#13175c;font-weight:bold;"><div>警告</div></div>
<div class="t b" style="left:163.8px;top:3222.3px;width:58.19999999999999px;height:41.79999999999973px;font-size:24px;line-height:32px;color:#13175c;font-weight:bold;"><div>记过</div></div>
<div class="t b" style="left:228.8px;top:3222.3px;width:81.19999999999999px;height:41.79999999999973px;font-size:24px;line-height:32px;color:#13175c;font-weight:bold;"><div>记大过</div></div>
<div class="t b" style="left:318px;top:3222.3px;width:58px;height:41.79999999999973px;font-size:24px;line-height:32px;color:#13175c;font-weight:bold;"><div>降级</div></div>
<div class="t b" style="left:383px;top:3222.3px;width:58.69999999999999px;height:41.79999999999973px;font-size:24px;line-height:32px;color:#13175c;font-weight:bold;"><div>撤职</div></div>
<div class="t b" style="left:448.3px;top:3222.3px;width:57.89999999999998px;height:41.79999999999973px;font-size:24px;line-height:32px;color:#13175c;font-weight:bold;"><div>开除</div></div>
<div class="t b" style="left:565px;top:3091.9px;width:359.5px;height:42.5px;font-size:24px;line-height:32px;color:#13175c;font-weight:bold;"><div>公职人员的任免机关<span class="pw">(</span>单位<span class="pw">)</span></div></div>
<div class="t b" style="left:553.6px;top:3157.0px;width:382.1px;height:42.09999999999991px;font-size:24px;line-height:32px;color:#13175c;font-weight:bold;"><div>对其负有教育管理监督的主体责任</div></div>
<div class="t b" style="left:527.2px;top:3222.1px;width:434.19999999999993px;height:42.0px;font-size:24px;line-height:32px;color:#13175c;font-weight:bold;"><div>对有管理权限的公职人员给予处分</div></div>
<div class="t b" style="left:540.5px;top:3287.4px;width:59.5px;height:41.69999999999982px;font-size:24px;line-height:32px;color:#13175c;font-weight:bold;"><div>警告</div></div>
<div class="t b" style="left:606.8px;top:3287.4px;width:57.200000000000045px;height:41.69999999999982px;font-size:24px;line-height:32px;color:#13175c;font-weight:bold;"><div>记过</div></div>
<div class="t b" style="left:671.6px;top:3287.4px;width:77.39999999999998px;height:41.69999999999982px;font-size:24px;line-height:32px;color:#13175c;font-weight:bold;"><div>记大过</div></div>
<div class="t b" style="left:760.6px;top:3287.4px;width:57.39999999999998px;height:41.69999999999982px;font-size:24px;line-height:32px;color:#13175c;font-weight:bold;"><div>降级</div></div>
<div class="t b" style="left:825.4px;top:3287.4px;width:58.10000000000002px;height:41.69999999999982px;font-size:24px;line-height:32px;color:#13175c;font-weight:bold;"><div>撤职</div></div>
<div class="t b" style="left:889.8px;top:3287.4px;width:58.10000000000002px;height:41.69999999999982px;font-size:24px;line-height:32px;color:#13175c;font-weight:bold;"><div>开除</div></div>
<div class="t b" style="left:469.5px;top:3397px;width:92.5px;height:58.5px;font-size:27px;line-height:36px;color:#13175c;font-weight:bold;"><div>第三</div></div>
<div class="t b" style="left:366.8px;top:3480.1px;width:298.7px;height:41.5px;font-size:24px;line-height:32px;color:#13175c;font-weight:bold;"><div>移送有关国家机关依法处理</div></div>
<div class="t b" style="left:438.7px;top:3545.1px;width:155.00000000000006px;height:41.5px;font-size:24px;line-height:32px;color:#13175c;font-weight:bold;"><div>包括两种情况</div></div>
<div class="t b" style="left:173.3px;top:3609.8px;width:275.09999999999997px;height:41.59999999999991px;font-size:24px;line-height:32px;color:#13175c;font-weight:bold;"><div>对于<span class="o">涉嫌犯罪</span>的党员来说</div></div>
<div class="t b" style="left:583.9px;top:3609.8px;width:275.5px;height:41.59999999999991px;font-size:24px;line-height:32px;color:#13175c;font-weight:bold;"><div>对于<span class="o">涉嫌违法</span>的党员来说</div></div>
<div class="t b" style="left:111.7px;top:3675.1px;width:397.8px;height:41.5px;font-size:24px;line-height:32px;color:#13175c;font-weight:bold;"><div>应当将其<span class="o">移送检察机关</span>依法审查起诉</div></div>
<div class="t b" style="left:521.5px;top:3675.1px;width:400.20000000000005px;height:41.5px;font-size:24px;line-height:32px;color:#13175c;font-weight:bold;"><div>应当将其<span class="o">移送有关执法机关</span>依法处理</div></div>
<div class="t b" style="left:692.5px;top:3740.0px;width:58.5px;height:57.5px;font-size:24px;line-height:32px;color:#13175c;font-weight:bold;"><div>比如</div></div>
<div class="t b" style="left:572px;top:3842.8px;width:299.29999999999995px;height:41.5px;font-size:24px;line-height:32px;color:#13175c;font-weight:bold;"><div>纪检监察机关在查处案件中</div></div>
<div class="t b" style="left:584.3px;top:3907.7px;width:274.80000000000007px;height:41.600000000000364px;font-size:24px;line-height:32px;color:#13175c;font-weight:bold;"><div>发现党员有行政违法行为</div></div>
<div class="t b" style="left:607.5px;top:3972.8px;width:227.39999999999998px;height:41.5px;font-size:24px;line-height:32px;color:#13175c;font-weight:bold;"><div>需要给予行政处罚的</div></div>
<div class="t b" style="left:524.4px;top:4037.7px;width:394.1px;height:41.600000000000364px;font-size:24px;line-height:32px;color:#13175c;font-weight:bold;"><div>在依纪依法给予党纪政务处分后</div></div>
<div class="t b" style="left:517.1px;top:4102.5px;width:409.5px;height:41.80000000000018px;font-size:24px;line-height:32px;color:#13175c;font-weight:bold;"><div>应当依法移送有关行政执法机关处理</div></div>
<div class="t" style="left:308.5px;top:4263.5px;width:685.5px;height:46.5px;font-size:20px;line-height:28px;color:#1e2a66;font-weight:normal;"><div>内容依据：<span class="nb">《</span><span class="nb">〈</span>中国共产党纪律处分条例<span class="nb">〉</span>简明读本<span class="nb">》</span><span class="pw">(</span>中国方正出版社<span class="pw">)</span></div></div>
</body></html>
